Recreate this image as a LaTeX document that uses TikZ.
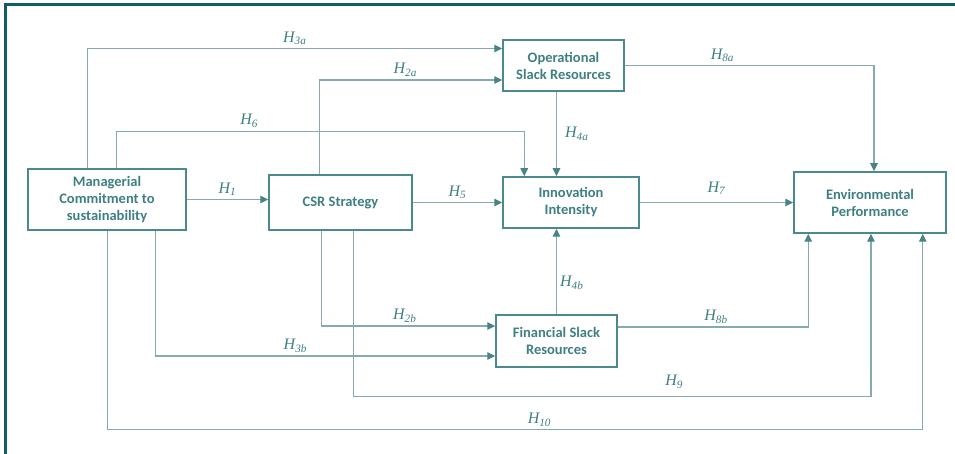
\documentclass[tikz,border=0pt]{standalone}
\usepackage{fontspec}
\setmainfont{Carlito}
\newfontfamily\labfont{Liberation Serif}
\usetikzlibrary{arrows.meta,positioning,calc}
\definecolor{frameteal}{HTML}{0D5F63}
\definecolor{boxteal}{HTML}{4A8A8C}
\definecolor{textteal}{HTML}{3E7F82}
\definecolor{wireteal}{HTML}{86AAAD}
\definecolor{tipteal}{HTML}{4A8385}
\newcommand{\hyp}[1]{{\labfont\itshape H\textsubscript{#1}}}

\begin{document}
\begin{tikzpicture}[
        x=1pt, y=1pt,
        font=\fontsize{14.5}{17}\selectfont\bfseries,
        varbox/.style={rectangle, draw=boxteal, line width=1.5pt,
          text=textteal, align=center, inner sep=2pt},
        link/.style={draw=wireteal, line width=1.2pt,
          -{Triangle[length=8pt, width=7.5pt, color=tipteal]}},
        hlab/.style={text=textteal, font=\fontsize{16}{18}\selectfont, inner sep=3pt}
      ]
        \useasboundingbox (0,0) rectangle (955,454);
        \draw[frameteal, line width=3pt] (955,449.5) -- (5.5,449.5) -- (5.5,0);
        \node[varbox, minimum width=158pt, minimum height=61pt] (mcs) at (107,254.5)
          {Managerial\\Commitment to\\sustainability};
        \node[varbox, minimum width=143pt, minimum height=55pt,
          right=81.5pt of mcs.south east, anchor=south west] (csr) {CSR Strategy};
        \node[varbox, minimum width=136pt, minimum height=51pt, right=89.5pt of csr] (inno)
          {Innovation\\Intensity};
        \node[varbox, minimum width=152pt, minimum height=61pt, right=153.5pt of inno] (env)
          {Environmental\\Performance};
        \node[varbox, minimum width=121pt, minimum height=51pt,
          above=84.5pt of inno.north west, anchor=south west] (opsl) {Operational\\Slack Resources};
        \node[varbox, minimum width=121pt, minimum height=52pt,
          below=85.5pt of inno.south west, anchor=north west, xshift=-7pt] (finsl) {Financial Slack\\Resources};
        \draw[link] (mcs.east) -- (mcs.east -| csr.west)
          node[hlab, midway, above] (l1) {\hyp{1}};
        \draw[link] (csr.east) -- (inno.west)
          node[hlab, midway, above] (l5) {\hyp{5}};
        \draw[link] (inno.east) -- (env.west)
          node[hlab, midway, above=4pt] (l7) {\hyp{7}};
        \draw[link] ([xshift=60pt]mcs.north west) |- ([yshift=17pt]opsl.west)
          node[hlab, pos=0.75, above] (l3a) {\hyp{3a}};
        \draw[link] ([xshift=51pt]csr.north west) |- ([yshift=-14.5pt]opsl.west)
          node[hlab, pos=0.735, above] (l2a) {\hyp{2a}};
        \draw[link] ([xshift=89pt]mcs.north west) -- ++(0,37) -| ([xshift=22pt]inno.north west)
          node[hlab, pos=0.163, above] (l6) {\hyp{6}};
        \draw[link] (finsl.north |- opsl.south) -- (finsl.north |- inno.north)
          node[hlab, midway, right=5pt] (l4a) {\hyp{4a}};
        \draw[link] (opsl.east) -| ([xshift=4pt]env.north)
          node[hlab, pos=0.196, above] (l8a) {\hyp{8a}};
        \draw[link] (finsl.north) -- (finsl.north |- inno.south)
          node[hlab, pos=0.37, right] (l4b) {\hyp{4b}};
        \draw[link] ([yshift=14pt]finsl.east) -| ([xshift=15pt]env.south west)
          node[hlab, pos=0.258, above] (l8b) {\hyp{8b}};
        \draw[link] ([xshift=85pt]csr.south west) -- ++(0,-166) -| ([xshift=1pt]env.south)
          node[hlab, pos=0.31, above=5pt] (l9) {\hyp{9}};
        \draw[link] ([xshift=80pt]mcs.south west) -- ++(0,-199) -| ([xshift=-24pt]env.south east)
          node[hlab, pos=0.265, above] (l10) {\hyp{10}};
        \draw[link] ([xshift=53pt]csr.south west) |- ([yshift=15pt]finsl.west)
          node[hlab, pos=0.74, above] (l2b) {\hyp{2b}};
        \draw[link] ([xshift=128pt]mcs.south west) |- ([yshift=-15pt]finsl.west)
          node[hlab, pos=0.706, above] (l3b) {\hyp{3b}};
      \end{tikzpicture}
\end{document}
